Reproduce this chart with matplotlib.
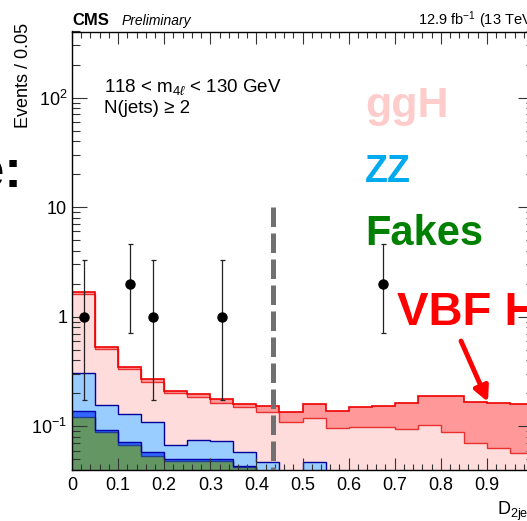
import matplotlib.pyplot as plt
import numpy as np
from matplotlib.ticker import LogLocator, MultipleLocator, NullFormatter

plt.rcParams["font.family"] = ["Liberation Sans", "DejaVu Sans"]
plt.rcParams["mathtext.fontset"] = "custom"
plt.rcParams["mathtext.rm"] = "Liberation Sans"
plt.rcParams["mathtext.it"] = "Liberation Sans:italic"
plt.rcParams["mathtext.bf"] = "Liberation Sans:bold"

# D_2jet bins, width 0.05
bin_edges = np.round(np.arange(21) * 0.05, 2)

# per-process yields (stacked bottom to top)
fakes = [0.123, 0.088, 0.067, 0.054, 0.048, 0.048, 0.048, 0.0425, 0.025, 0.020,
         0.020, 0.015, 0.015, 0.015, 0.012, 0.012, 0.010, 0.010, 0.010, 0.010]
gg_zz = [0.015, 0.005, 0.005, 0.004, 0.0025, 0.002, 0.002, 0.001, 0.003, 0.002,
         0.002, 0.001, 0.001, 0.001, 0.001, 0.001, 0.001, 0.001, 0.001, 0.001]
qq_zz = [0.168, 0.064, 0.057, 0.051, 0.0165, 0.025, 0.024, 0.0146, 0.019, 0.013,
         0.025, 0.014, 0.014, 0.014, 0.012, 0.012, 0.009, 0.009, 0.009, 0.009]
ggh = [1.294, 0.353, 0.206, 0.146, 0.133, 0.111, 0.091, 0.091, 0.087, 0.074,
       0.073, 0.066, 0.068, 0.068, 0.069, 0.078, 0.069, 0.051, 0.043, 0.037]
vbf = [0.090, 0.020, 0.013, 0.013, 0.011, 0.012, 0.013, 0.012, 0.019, 0.025,
       0.039, 0.041, 0.052, 0.057, 0.071, 0.085, 0.099, 0.097, 0.101, 0.102]

# observed events
data_x = [0.025, 0.125, 0.175, 0.325, 0.675]
data_n = [1, 2, 1, 1, 2]
data_lo = [0.173, 0.708, 0.173, 0.173, 0.708]
data_hi = [3.300, 4.638, 3.300, 3.300, 4.638]

wp_cut = 0.435

W, H = 527, 521
fig = plt.figure(figsize=(W / 100, H / 100), dpi=100)
ax = fig.add_axes([72 / W, 1 - 470 / H, 461 / W, 438.5 / H])

stack = np.cumsum(np.array([fakes, gg_zz, qq_zz, ggh, vbf]), axis=0)
floor = 1e-3
ax.stairs(stack[0], bin_edges, baseline=floor, fill=True, color="#649664", lw=0)
ax.stairs(stack[1], bin_edges, baseline=stack[0], fill=True, color="#3366ff", lw=0)
ax.stairs(stack[2], bin_edges, baseline=stack[1], fill=True, color="#99ccff", lw=0)
ax.stairs(stack[3], bin_edges, baseline=stack[2], fill=True, color="#ffdcdc", lw=0)
ax.stairs(stack[4], bin_edges, baseline=stack[3], fill=True, color="#ff9898", lw=0)

ax.stairs(stack[0], bin_edges, baseline=None, color="#1f3f8f", lw=1.0)
ax.stairs(stack[1], bin_edges, baseline=None, color="#0000aa", lw=1.0)
ax.stairs(stack[2], bin_edges, baseline=None, color="#000099", lw=1.0)
ax.stairs(stack[3], bin_edges, baseline=None, color="#e83030", lw=1.0)
ax.stairs(stack[4], bin_edges, baseline=None, color="#ee0000", lw=1.2)

ax.plot([wp_cut, wp_cut], [10, 0.04], color="#707070", lw=3.6,
        dashes=(3.9, 1.3), zorder=4)

data_n = np.array(data_n, dtype=float)
ax.errorbar(data_x, data_n,
            yerr=[data_n - np.array(data_lo), np.array(data_hi) - data_n],
            fmt="o", color="black", ecolor="#222222", ms=6.5, lw=0.9,
            capsize=1.8, capthick=0.9, zorder=5)

ax.set_xlim(0, 1)
ax.set_yscale("log")
ax.set_ylim(0.04, 400)
ax.set_yticks([0.1, 1, 10, 100], labels=[r"$10^{-1}$", "1", "10", r"$10^{2}$"])
ax.yaxis.set_minor_locator(LogLocator(base=10, subs=np.arange(2, 10)))
ax.yaxis.set_minor_formatter(NullFormatter())
xt = np.round(np.arange(11) * 0.1, 1)
ax.set_xticks(xt, labels=[f"{v:g}" for v in xt])
ax.xaxis.set_minor_locator(MultipleLocator(0.02))

ax.tick_params(which="both", direction="in", top=True, right=True,
               labelsize=13, color="#333333", width=0.8)
ax.tick_params(axis="y", which="major", length=10.8, pad=3.5)
ax.tick_params(axis="y", which="minor", length=5.4)
ax.tick_params(axis="x", which="major", length=8.6, pad=5)
ax.tick_params(axis="x", which="minor", length=4.3)
for s in ax.spines.values():
    s.set_linewidth(1.0)

def fx(px):
    return px / W

def fy(py):
    return 1 - py / H

fig.text(fx(72), fy(25), "CMS", weight="bold", size=12, va="baseline")
fig.text(fx(122), fy(25), "Preliminary", style="italic", size=10, va="baseline")
fig.text(fx(418), fy(25), r"12.9 fb$^{-1}$ (13 TeV)", size=10.5, va="baseline")
fig.text(fx(24), fy(23), "Events / 0.05", rotation=90, size=13,
         ha="center", va="top")
fig.text(fx(497), fy(515), r"D$_{\rm 2jet}$", size=13, va="baseline")
fig.text(fx(22), fy(187), "e:", weight="bold", size=38, ha="right", va="baseline")

fig.text(fx(104), fy(92), r"118 < m$_{4\ell}$ < 130 GeV", size=13.5, va="baseline")
fig.text(fx(104), fy(113), "N(jets) \u2265 2", size=13.5, va="baseline")

fig.text(fx(365), fy(117), "ggH", weight="bold", size=31, color="#ffcccc", va="baseline")
fig.text(fx(365), fy(182), "ZZ", weight="bold", size=27, color="#00aaee", va="baseline")
fig.text(fx(365), fy(245), "Fakes", weight="bold", size=30, color="#008000", va="baseline")
fig.text(fx(397), fy(325), "VBF H", weight="bold", size=34, color="#ff0000", va="baseline")

ax.annotate("", xy=(488, H - 402), xycoords="figure pixels",
            xytext=(461, H - 341), textcoords="figure pixels",
            arrowprops=dict(arrowstyle="-|>", color="red", lw=3.5,
                            mutation_scale=22, shrinkA=0, shrinkB=0))

fig.savefig("out.png", dpi=100)
